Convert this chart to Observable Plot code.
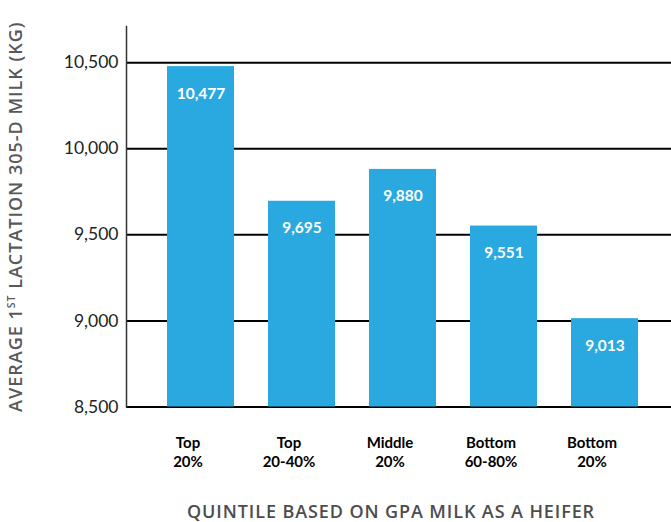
<!DOCTYPE html>
<html>
<head>
<meta charset="utf-8">
<script src="https://cdn.jsdelivr.net/npm/d3@7"></script>
<script src="https://cdn.jsdelivr.net/npm/@observablehq/plot@0.6"></script>
<style>
  html, body { margin: 0; padding: 0; background: #fff; }
</style>
</head>
<body>
<div id="chart"></div>
<script>
const categories = ["Top\n20%", "Top\n20-40%", "Middle\n20%", "Bottom\n60-80%", "Bottom\n20%"];
const values = [10477, 9695, 9880, 9551, 9013];
const yTicks = [8500, 9000, 9500, 10000, 10500];
const yDomain = [8500, 10710];
const xTitle = "QUINTILE BASED ON GPA MILK AS A HEIFER";
const yTitleParts = ["AVERAGE 1", "ST", " LACTATION 305-D MILK (KG)"];

const data = categories.map((c, i) => ({cat: c, value: values[i]}));
const fmt = d3.format(",");
const yTitle = yTitleParts.join("");
const titleFont = "'Open Sans', Lato, sans-serif";

const chart = Plot.plot({
  width: 671,
  height: 522,
  marginLeft: 126,
  marginRight: 0,
  marginTop: 26,
  marginBottom: 115.5,
  style: {fontFamily: "Lato, 'Open Sans', sans-serif", background: "#fff", color: "#231f20"},
  x: {domain: categories, range: [149, 656], paddingInner: 0.34, paddingOuter: 0.17, axis: null},
  y: {domain: yDomain, axis: null},
  marks: [
    Plot.ruleY(yTicks, {stroke: "#000", strokeWidth: 2}),
    Plot.barY(data, {x: "cat", y1: yDomain[0], y2: "value", fill: "#29a9e0"}),
    Plot.frame({anchor: "left", stroke: "#333", strokeWidth: 1.5}),
    Plot.axisY({ticks: yTicks, tickSize: 0, tickPadding: 8, tickFormat: d => fmt(d), fontSize: 17.5, label: null, fill: "#231f20"}),
    Plot.text(data, {x: "cat", y: "value", text: d => fmt(d.value), fill: "#fff", fontWeight: "bold", fontSize: 15.5, lineAnchor: "top", dy: 21}),
    Plot.text(data, {x: "cat", text: "cat", frameAnchor: "bottom", lineAnchor: "top", dy: 27.5, dx: -13, fontWeight: "bold", fontSize: 15, lineHeight: 1.27, fill: "#000"}),
    Plot.text([xTitle], {frameAnchor: "bottom", lineAnchor: "bottom", dy: 110.5, dx: -8, fontSize: 18, fontWeight: 600, fontFamily: titleFont, fill: "#4d4d4d"}),
    Plot.text([yTitle], {frameAnchor: "left", textAnchor: "middle", rotate: -90, dx: -110, dy: 0, fontSize: 18, fontWeight: 600, fontFamily: titleFont, fill: "#58595b"})
  ]
});

d3.select(chart).selectAll("text").each(function() {
  if (this.textContent === xTitle) {
    d3.select(this).attr("letter-spacing", 0.9);
  }
  // superscript "ST" in the y-axis title
  if (this.textContent === yTitle) {
    const t = d3.select(this).attr("letter-spacing", 1.0);
    t.text(null);
    t.append("tspan").text(yTitleParts[0]);
    t.append("tspan").attr("font-size", 10.5).attr("dy", -7).text(yTitleParts[1]);
    t.append("tspan").attr("dy", 7).text(yTitleParts[2]);
  }
});

document.getElementById("chart").appendChild(chart);
</script>
</body>
</html>
